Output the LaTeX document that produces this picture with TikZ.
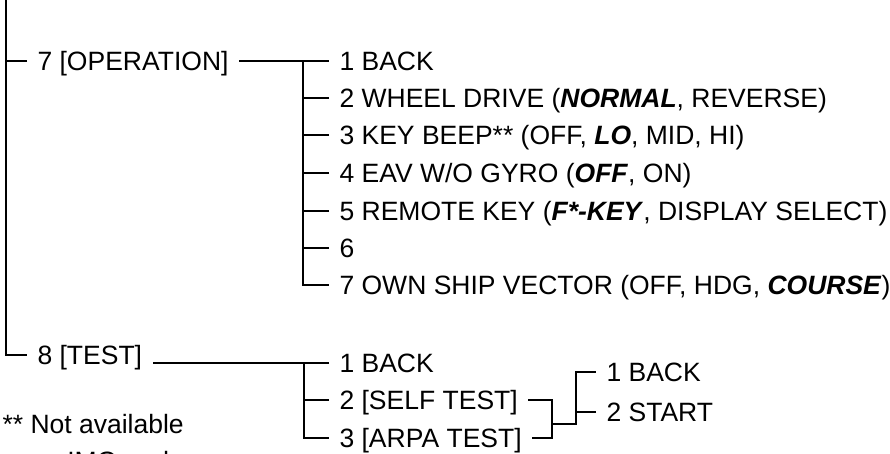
\documentclass[tikz,border=0pt]{standalone}
\usepackage{fontspec}
\setmainfont{Liberation Sans}
\newcommand{\sel}[1]{\textbf{\textit{#1}}}

\begin{document}
\begin{tikzpicture}[x=1pt,y=-1pt,line width=1.1pt,
  font=\fontsize{26.5}{31}\selectfont,
  item/.style={anchor=west,inner xsep=10pt,inner ysep=0pt,text height=19pt,text depth=0pt},
  note/.style={anchor=base west,inner sep=0pt}]
\useasboundingbox (0,0) rectangle (890,454);
% main trunk
\coordinate (trunk) at (6,0);
\node[item] (op) at (27,61) {7 [OPERATION]};
\node[item] (test) at (27,355) {8 [TEST]};
\draw (trunk) |- (test.west);
\draw (op.west) -- (op.west -| trunk);
% operation menu
\coordinate (opv) at (303,61);
\foreach \i/\y/\t in {1/61/{1 BACK},
    2/98/{2 WHEEL DRIVE (\sel{NORMAL}, REVERSE)},
    3/135/{3 KEY BEEP** (OFF, \sel{LO}, MID, HI)},
    4/173/{4 EAV W/O GYRO (\sel{OFF}, ON)},
    5/211/{5 REMOTE KEY (\sel{F*-KEY}, DISPLAY SELECT)},
    6/248/{6},
    7/285/{7 OWN SHIP VECTOR (OFF, HDG, \sel{COURSE})}}
  \node[item] (o\i) at (329,\y) {\t};
\draw (op.east) -- (o1.west);
\draw (o1.west -| opv) |- (o7.west);
\foreach \i in {2,...,6} \draw (o\i.west) -- (o\i.west -| opv);
% test menu
\coordinate (tv) at (304,362);
\node[item] (t1) at (329,363) {1 BACK};
\node[item] (t2) at (329,400) {2 [SELF TEST]};
\node[item] (t3) at (329,438) {3 [ARPA TEST]};
\draw (t1.west) -- (t1.west -| test.east);
\draw (t1.west -| tv) |- (t3.west);
\draw (t2.west) -- (t2.west -| tv);
% self test / arpa test
\coordinate (tj) at (552,424);
\coordinate (rv) at (576,424);
\node[item] (r1) at (596,372) {1 BACK};
\node[item] (r2) at (596,412) {2 START};
\draw (t2.east) -| (tj);
\draw (t3.east) -| (tj);
\draw (tj) -- (rv) |- (r1.west);
\draw (r2.west) -- (r2.west -| rv);
% footnote
\node[note] (n1) at (2,433) {** Not available};
\node[note] (n2) at (30,470) {on IMO and};
\end{tikzpicture}
\end{document}
